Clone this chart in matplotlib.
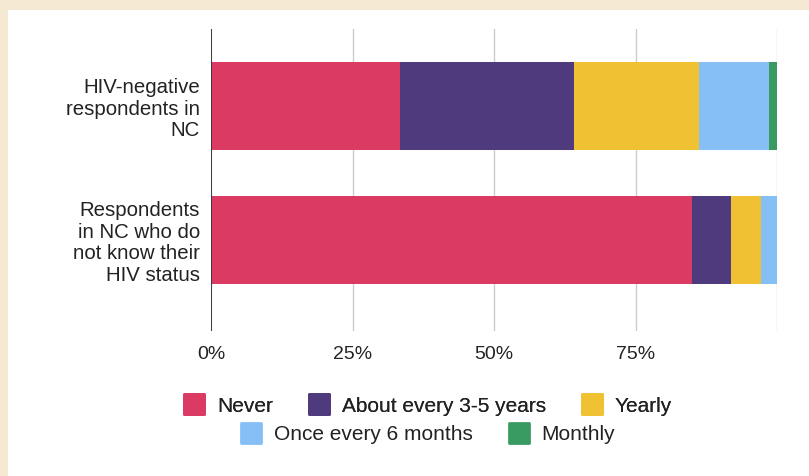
import matplotlib.pyplot as plt
from matplotlib.lines import Line2D
from matplotlib.markers import MarkerStyle
from matplotlib.patches import Rectangle

plt.rcParams['font.family'] = ['Liberation Sans', 'DejaVu Sans']

# Anteile je Gruppe (in %)
groups = ['HIV-negative\nrespondents in\nNC',
          'Respondents\nin NC who do\nnot know their\nHIV status']
never = [33.4, 85.0]
every_3_5 = [30.8, 6.8]
yearly = [22.0, 5.3]
six_months = [12.4, 2.9]
monthly = [1.4, 0.0]

series = ['Never', 'About every 3-5 years', 'Yearly',
          'Once every 6 months', 'Monthly']
colors = ['#DB3A63', '#4E3A7C', '#F0C132', '#86BFF6', '#3A9B62']
values = [never, every_3_5, yearly, six_months, monthly]

ticks = [0, 25, 50, 75, 100]
tick_labels = ['0%', '25%', '50%', '75%', '']

W, H = 809, 476
fig = plt.figure(figsize=(W / 100, H / 100), dpi=100, facecolor='#F5E9D3')
# weisse Flaeche mit beigem Rand oben/links
fig.patches.append(Rectangle((8 / W, 0), 1, 1 - 10 / H, transform=fig.transFigure,
                             facecolor='white', edgecolor='none', zorder=-5))

ax = fig.add_axes([211 / W, 1 - 331 / H, (777 - 211) / W, (331 - 29) / H])
ax.set_facecolor('none')
ax.set_zorder(2)

y = list(range(len(groups)))
left = [0.0] * len(groups)
for name, vals, c in zip(series, values, colors):
    ax.barh(y, vals, left=left, height=0.657, color=c, label=name, zorder=3)
    left = [l + v for l, v in zip(left, vals)]

ax.set_xlim(0, 100)
ax.set_ylim(1.68, -0.575)
ax.set_xticks(ticks)
ax.set_xticklabels(tick_labels)
ax.set_yticks(y)
ax.set_yticklabels(groups)
ax.tick_params(axis='both', length=0, labelsize=14, labelcolor='#222222')
ax.tick_params(axis='x', pad=11)
ax.tick_params(axis='y', pad=8, labelsize=14.7)
for lab in ax.get_yticklabels():
    lab.set_linespacing(1.17)

ax.xaxis.grid(True, color='#CCCCCC', linewidth=1.0, zorder=0)
ax.axvline(0, color='#333333', linewidth=1.3, zorder=4)
for s in ax.spines.values():
    s.set_visible(False)

# Legende in zwei zentrierten Zeilen
ms = MarkerStyle('s', joinstyle='round')
handles = [Line2D([], [], linestyle='none', marker=ms, markersize=14,
                  markerfacecolor=c, markeredgecolor=c, markeredgewidth=2)
           for c in colors]
kw = dict(frameon=False, fontsize=15, handletextpad=0.6, columnspacing=1.7,
          handlelength=1.0, loc='center', labelcolor='#222222')
leg1 = fig.legend(handles[:3], series[:3], ncol=3,
                  bbox_to_anchor=(428 / W, 1 - 406 / H), **kw)
fig.add_artist(leg1)
fig.legend(handles[3:], series[3:], ncol=2,
           bbox_to_anchor=(428 / W, 1 - 435 / H), **kw)

fig.savefig('out.png', dpi=100, facecolor=fig.get_facecolor())
